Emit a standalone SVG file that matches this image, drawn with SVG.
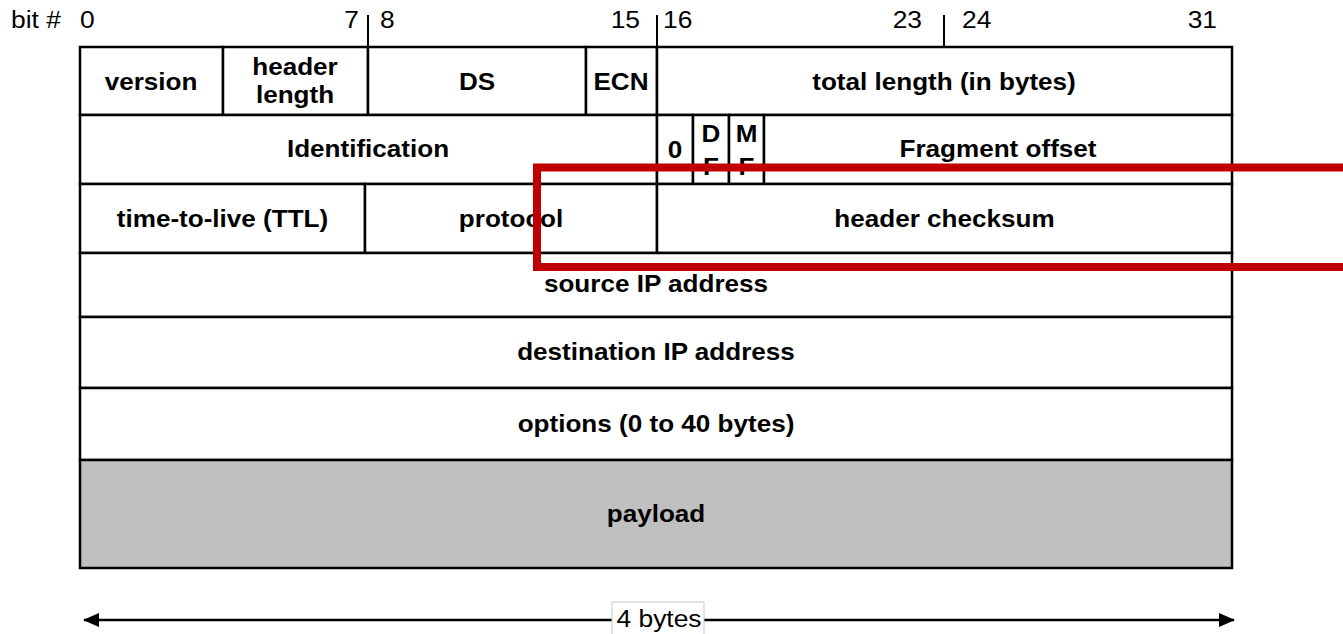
<svg xmlns="http://www.w3.org/2000/svg" width="1343" height="634" viewBox="0 0 1343 634">
  <style>
    .cell { fill: #ffffff; stroke: #000000; stroke-width: 2.5; }
    .pay { fill: #c0c0c0; stroke: #000000; stroke-width: 2.5; }
    .lbl { font-family: "Liberation Sans", Arial, sans-serif; font-size: 23.5px; font-weight: bold; fill: #000000; text-anchor: middle; }
    .num { font-family: "Liberation Sans", Arial, sans-serif; font-size: 24px; fill: #000000; }
    .tick { stroke: #000000; stroke-width: 2; }
    .arrow { stroke: #000000; stroke-width: 2.7; fill: none; }
    .hl { fill: none; stroke: #c00000; stroke-width: 8; }
  </style>
  <defs>
    <marker id="head" viewBox="0 0 16 14" refX="15" refY="7" markerWidth="16" markerHeight="14" markerUnits="userSpaceOnUse" orient="auto-start-reverse">
      <path d="M0,0 L16,7 L0,14 Z" fill="#000000"/>
    </marker>
  </defs>

  <rect width="1343" height="634" fill="#ffffff"/>

  <!-- bit numbering along the top -->
  <g id="bit-scale">
    <text class="num" transform="translate(11 28) scale(1.1 1)">bit #</text>
    <text class="num" transform="translate(80 28) scale(1.1 1)">0</text>
    <text class="num" text-anchor="end" transform="translate(359 28) scale(1.1 1)">7</text>
    <text class="num" transform="translate(380 28) scale(1.1 1)">8</text>
    <text class="num" text-anchor="end" transform="translate(640 28) scale(1.1 1)">15</text>
    <text class="num" transform="translate(663 28) scale(1.1 1)">16</text>
    <text class="num" text-anchor="end" transform="translate(922 28) scale(1.1 1)">23</text>
    <text class="num" transform="translate(962 28) scale(1.1 1)">24</text>
    <text class="num" text-anchor="end" transform="translate(1217 28) scale(1.1 1)">31</text>
    <line class="tick" x1="368" y1="15" x2="368" y2="47"/>
    <line class="tick" x1="657" y1="15" x2="657" y2="47"/>
    <line class="tick" x1="944" y1="15" x2="944" y2="47"/>
  </g>

  <!-- row 1 -->
  <g id="version">
    <rect class="cell" x="80" y="47" width="143" height="68"/>
    <text class="lbl" transform="translate(151 90) scale(1.11 1)">version</text>
  </g>
  <g id="header-length">
    <rect class="cell" x="223" y="47" width="145" height="68"/>
    <text class="lbl" transform="translate(295 75) scale(1.11 1)">header</text>
    <text class="lbl" transform="translate(295 103) scale(1.11 1)">length</text>
  </g>
  <g id="ds">
    <rect class="cell" x="368" y="47" width="218" height="68"/>
    <text class="lbl" transform="translate(477 90) scale(1.11 1)">DS</text>
  </g>
  <g id="ecn">
    <rect class="cell" x="586" y="47" width="71" height="68"/>
    <text class="lbl" transform="translate(621 90) scale(1.11 1)">ECN</text>
  </g>
  <g id="total-length">
    <rect class="cell" x="657" y="47" width="575" height="68"/>
    <text class="lbl" transform="translate(944 90) scale(1.11 1)">total length (in bytes)</text>
  </g>

  <!-- row 2 -->
  <g id="identification">
    <rect class="cell" x="80" y="115" width="577" height="69"/>
    <text class="lbl" transform="translate(368 157) scale(1.11 1)">Identification</text>
  </g>
  <g id="flag-zero">
    <rect class="cell" x="657" y="115" width="36" height="69"/>
    <text class="lbl" transform="translate(675 158) scale(1.11 1)">0</text>
  </g>
  <g id="flag-df">
    <rect class="cell" x="693" y="115" width="36" height="69"/>
    <text class="lbl" transform="translate(711 142) scale(1.11 1)">D</text>
    <text class="lbl" transform="translate(711 175) scale(1.11 1)">F</text>
  </g>
  <g id="flag-mf">
    <rect class="cell" x="729" y="115" width="35" height="69"/>
    <text class="lbl" transform="translate(746.5 142) scale(1.11 1)">M</text>
    <text class="lbl" transform="translate(746.5 175) scale(1.11 1)">F</text>
  </g>
  <g id="fragment-offset">
    <rect class="cell" x="764" y="115" width="468" height="69"/>
    <text class="lbl" transform="translate(998 157) scale(1.11 1)">Fragment offset</text>
  </g>

  <!-- row 3 -->
  <g id="ttl">
    <rect class="cell" x="80" y="184" width="285" height="69"/>
    <text class="lbl" transform="translate(222.5 227) scale(1.11 1)">time-to-live (TTL)</text>
  </g>
  <g id="protocol">
    <rect class="cell" x="365" y="184" width="292" height="69"/>
    <text class="lbl" transform="translate(511 227) scale(1.11 1)">protocol</text>
  </g>
  <g id="header-checksum">
    <rect class="cell" x="657" y="184" width="575" height="69"/>
    <text class="lbl" transform="translate(944.5 227) scale(1.11 1)">header checksum</text>
  </g>

  <!-- full-width rows -->
  <g id="source-ip">
    <rect class="cell" x="80" y="253" width="1152" height="64"/>
    <text class="lbl" transform="translate(656 292) scale(1.11 1)">source IP address</text>
  </g>
  <g id="destination-ip">
    <rect class="cell" x="80" y="317" width="1152" height="71"/>
    <text class="lbl" transform="translate(656 360) scale(1.11 1)">destination IP address</text>
  </g>
  <g id="options">
    <rect class="cell" x="80" y="388" width="1152" height="72"/>
    <text class="lbl" transform="translate(656 432) scale(1.11 1)">options (0 to 40 bytes)</text>
  </g>
  <g id="payload">
    <rect class="pay" x="80" y="460" width="1152" height="108"/>
    <text class="lbl" transform="translate(656 522) scale(1.11 1)">payload</text>
  </g>

  <!-- highlight frame over the third row -->
  <g id="highlight">
    <rect class="hl" x="537" y="167.5" width="820" height="99.5"/>
  </g>

  <!-- width dimension arrow -->
  <g id="connectors">
    <line class="arrow" x1="84" y1="620" x2="1234" y2="620" marker-start="url(#head)" marker-end="url(#head)"/>
  </g>
  <g id="width-label">
    <rect x="612" y="602" width="92" height="36" fill="#ffffff" stroke="#c8c8c8" stroke-width="1"/>
    <text class="num" text-anchor="middle" transform="translate(659 627) scale(1.1 1)">4 bytes</text>
  </g>
</svg>
